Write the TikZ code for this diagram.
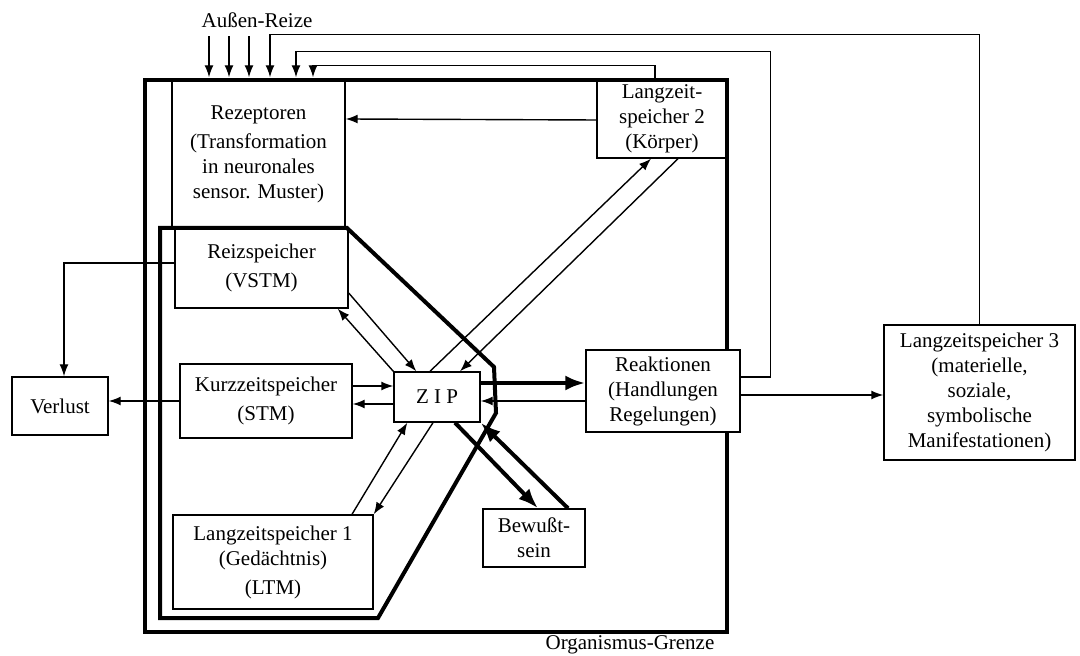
\documentclass[tikz,border=0pt]{standalone}
\usepackage{fontspec}
\setmainfont{Liberation Serif}
\usetikzlibrary{calc,arrows.meta}
\begin{document}
\begin{tikzpicture}[x=.5pt,y=-.5pt,line width=.7pt,>={Latex[length=6pt,width=4.5pt]},
font=\fontsize{10.5pt}{12.5pt}\selectfont,
box/.style={draw,align=center,inner sep=2pt},
heavy/.style={line width=2pt},
bigtip/.style={-{Latex[length=10pt,width=7.5pt]}}]
\useasboundingbox (0,0) rectangle (1080,656);
\draw[heavy] (145,80) rectangle (727,632);
\draw[heavy] (160,228) -- (347,228) -- (494,367) -- (496,413) -- (378,618) -- (160,618) -- cycle;
\node[align=center] (aussen) at (257,20) {Außen-Reize};
\node[align=center] (grenze) at (630,645) {Organismus-Grenze};

\node[box,minimum width=86.5pt,minimum height=74pt] (rez) at (258.5,154) {Rezeptoren\\[2pt](Transformation\\in neuronales\\sensor. Muster)};
\node[box,minimum width=86.5pt,minimum height=40pt] (vstm) at (261.5,268) {Reizspeicher\\[2pt](VSTM)};
\node[box,minimum width=86pt,minimum height=37pt] (kzs) at (266,401) {Kurzzeitspeicher\\[2pt](STM)};
\node[box,minimum width=48pt,minimum height=29pt] (verlust) at (60,406) {Verlust};
\node[box,minimum width=43pt,minimum height=25pt] (zip) at (437,397) {Z I P};
\node[box,fill=white,minimum width=77pt,minimum height=41pt] (reak) at (663,391) {Reaktionen\\(Handlungen\\Regelungen)};
\node[box,minimum width=65pt,minimum height=39pt] (lz2) at (662,119) {Langzeit-\\speicher 2\\(Körper)};
\node[box,minimum width=100pt,minimum height=47pt] (lz1) at (273,562) {Langzeitspeicher 1\\(Gedächtnis)\\[2pt](LTM)};
\node[box,minimum width=51pt,minimum height=29pt] (bew) at (534,538) {Bewußt-\\sein};
\node[box,minimum width=95.5pt,minimum height=67.5pt] (lz3) at (979.5,392.5) {Langzeitspeicher 3\\(materielle,\\soziale,\\symbolische\\Manifestationen)};

\foreach \x in {-49.5,-29.5,-9.5}\draw[->] ($(rez.north)+(\x,-43)$) -- ($(rez.north)+(\x,-2)$);
\draw[->] (lz3.north) |- ($(rez.north)+(11.5,-45)$) -- ($(rez.north)+(11.5,-2)$);
\draw[->] ($(reak.east)+(0,-14)$) -- ++(30,0) |- ($(rez.north)+(37.5,-28)$) -- ($(rez.north)+(37.5,-2)$);
\draw[->] ($(lz2.north)+(-7,0)$) |- ($(rez.north)+(54.5,-14)$) -- ($(rez.north)+(54.5,-2)$);
\draw[->] ($(lz2.west)+(0,1)$) -- (lz2.west -| rez.east);

\draw[->] ($(vstm.west)+(0,-5)$) -| ($(verlust.north)+(4,0)$);
\draw[->] (kzs.west) -- (kzs.west -| verlust.east);

\draw[->] (zip.north west) -- ($(vstm.south east)+(-11,0)$);
\draw[->] ($(vstm.east)+(0,25)$) -- ($(zip.north west)+(23,0)$);
\draw[->] ($(kzs.east)+(0,-15)$) -- ($(zip.west)+(0,-11)$);
\draw[->] ($(zip.west)+(0,7)$) -- ($(kzs.east)+(0,3)$);
\draw[->] ($(zip.north)+(-7,0)$) -- ($(lz2.south)+(-11,0)$);
\draw[->] ($(lz2.south)+(16,0)$) -- ($(zip.north)+(23,0)$);
\draw[->] ($(lz1.north)+(79,0)$) -- ($(zip.south west)+(14,0)$);
\draw[->] ($(zip.south)+(-4,0)$) -- (lz1.north east);
\draw[heavy,bigtip] ($(zip.east)+(0,-14)$) -- ($(reak.west)+(0,-8)$);
\draw[->] ($(reak.west)+(0,10)$) -- ($(zip.east)+(0,4)$);
\draw[heavy,bigtip] ($(zip.south)+(18,0)$) -- ($(bew.north)+(4,0)$);
\draw[heavy,bigtip] ($(bew.north)+(34,0)$) -- (zip.south east);
\draw[->] ($(reak.east)+(0,4)$) -- ($(lz3.west)+(0,2.5)$);
\end{tikzpicture}
\end{document}
